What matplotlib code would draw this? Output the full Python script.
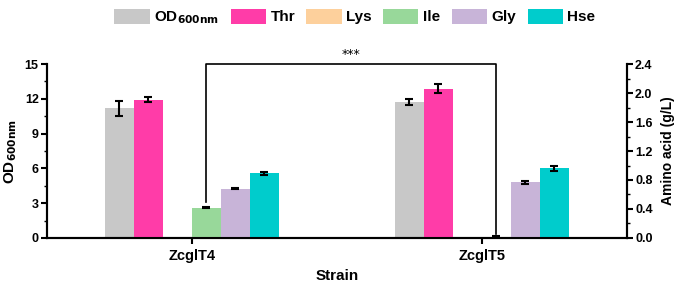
import matplotlib.pyplot as plt
import numpy as np

narrow = ['Liberation Sans Narrow', 'Liberation Sans']
plt.rcParams['font.family'] = narrow
plt.rcParams['font.weight'] = 'bold'
plt.rcParams['mathtext.fontset'] = 'custom'
plt.rcParams['mathtext.rm'] = 'Liberation Sans Narrow:bold'
plt.rcParams['mathtext.it'] = 'Liberation Sans Narrow:bold'
plt.rcParams['mathtext.bf'] = 'Liberation Sans Narrow:bold'

strains = ["ZcglT4", "ZcglT5"]
od = [11.2, 11.7]
od_err = [0.65, 0.25]
thr = [1.91, 2.06]
thr_err = [0.03, 0.06]
lys = [0.0, 0.0]
lys_err = [0.0, 0.0]
ile = [0.42, 0.01]
ile_err = [0.01, 0.02]
gly = [0.68, 0.77]
gly_err = [0.01, 0.02]
hse = [0.89, 0.96]
hse_err = [0.02, 0.03]

colors = ["#c8c8c8", "#ff3ca8", "#fdd09c", "#98d89a", "#c8b4d8", "#00cccc"]
labels = [r"OD$_{\mathrm{600nm}}$", "Thr", "Lys", "Ile", "Gly", "Hse"]

fig = plt.figure(figsize=(6.85, 2.89), dpi=100)
ax = fig.add_axes([0.0686, 0.1765, 0.8464, 0.602])
ax2 = ax.twinx()

x = np.arange(len(strains))
w = 0.1
ekw = dict(elinewidth=1.5, capthick=1.5, ecolor="black")

handles = []
b = ax.bar(x - 2.5 * w, od, w, yerr=od_err, color=colors[0], capsize=3, error_kw=ekw)
handles.append(b)
series = [(thr, thr_err), (lys, lys_err), (ile, ile_err), (gly, gly_err), (hse, hse_err)]
for i, (vals, errs) in enumerate(series):
    pos = x + (i - 1.5) * w
    b = ax2.bar(pos, vals, w, color=colors[i + 1])
    handles.append(b)
    nz = [j for j in range(len(vals)) if errs[j] > 0]
    ax2.errorbar(pos[nz], np.array(vals)[nz], yerr=np.array(errs)[nz], fmt="none",
                 capsize=3, **ekw)

ax.set_xlim(-0.5, 1.5)
ax.set_ylim(0, 15)
ax2.set_ylim(0, 2.4)
ax.set_yticks(np.arange(0, 16, 3))
ax.set_yticks(np.arange(0, 15, 1.5), minor=True)
ax2.set_yticks(np.arange(0, 2.41, 0.4))
ax2.set_yticks(np.arange(0, 2.4, 0.2), minor=True)
ax2.set_yticklabels(["%.1f" % v for v in np.arange(0, 2.41, 0.4)])
ax.set_xticks(x)
ax.set_xticklabels(strains)

for a in (ax, ax2):
    a.spines["top"].set_visible(False)
    for s in ("left", "right", "bottom"):
        a.spines[s].set_linewidth(1.5)
    a.tick_params(axis="y", which="major", labelsize=9, width=1.5, length=4, pad=2)
    a.tick_params(axis="y", which="minor", width=1, length=2)
ax.tick_params(axis="x", which="major", labelsize=10.5, width=1.5, length=4, pad=4)

ax.set_ylabel(r"OD$_{\mathrm{600nm}}$", fontsize=11, fontweight="bold", labelpad=4,
              family="Liberation Sans")
ax2.set_ylabel("Amino acid (g/L)", fontsize=10, fontweight="bold", labelpad=6,
               family="Liberation Sans")
ax.set_xlabel("Strain", fontsize=11, fontweight="bold", labelpad=4)

# significance bracket between Ile bars
x1 = x[0] + 0.5 * w
x2 = x[1] + 0.5 * w
ax2.plot([x1, x1, x2, x2], [0.5, 2.4, 2.4, 0.05], color="black", lw=1.2, clip_on=False)
ax2.text((x1 + x2) / 2, 2.44, "***", ha="center", va="bottom", fontsize=9,
         fontweight="normal", family="DejaVu Sans")

fig.legend(handles, labels, loc="center", bbox_to_anchor=(0.518, 0.94), ncol=6,
           frameon=False, fontsize=11, handlelength=2.3, handleheight=1.15,
           columnspacing=0.75, handletextpad=0.3)

plt.savefig("out.png", dpi=100)
